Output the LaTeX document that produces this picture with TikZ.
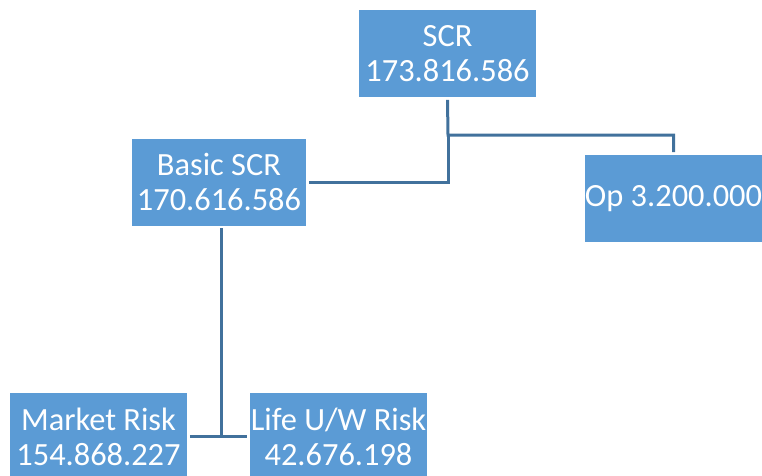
\documentclass[tikz,border=0pt]{standalone}
\usepackage{fontspec}
\setmainfont{Carlito}
\usetikzlibrary{positioning}
\definecolor{boxblue}{RGB}{91,155,213}
\definecolor{lineblue}{RGB}{65,113,156}
\tikzset{
riskbox/.style={fill=boxblue, text=white, align=center, inner sep=0pt, outer sep=2.2pt, minimum width=132.75pt, minimum height=65.25pt, font=\fontsize{24.3}{26.4}\selectfont}, % the blue boxes
link/.style={draw=lineblue, line width=2.25pt}, % the tree lines
}
\begin{document}
\begin{tikzpicture}[x=0.75pt, y=-0.75pt]
      \useasboundingbox (0,0) rectangle (762,475);
      \node[riskbox] (scr) at (447.5,53.5) {SCR\\173.816.586};
      \node[riskbox, minimum width=130.5pt] (basic) at (219,182) {Basic SCR\\170.616.586};
      \node[riskbox] (op) at (673.5,198.5) {Op 3.200.000};
      \node[riskbox] (market) at (98.5,436.5) {Market Risk\\154.868.227};
      \node[riskbox] (life) at (338.5,436.5) {Life U/W Risk\\42.676.198};
      \coordinate (fork) at (448,135);

      \draw[link] (scr.south) -- (fork) -| (op.north);
      \draw[link] (fork) |- (basic.east);
      \draw[link] ([xshift=1.5pt]basic.south) -- ([xshift=1.5pt]basic.south |- market.east);
      \draw[link] (market) -- (life);
    \end{tikzpicture}
\end{document}
